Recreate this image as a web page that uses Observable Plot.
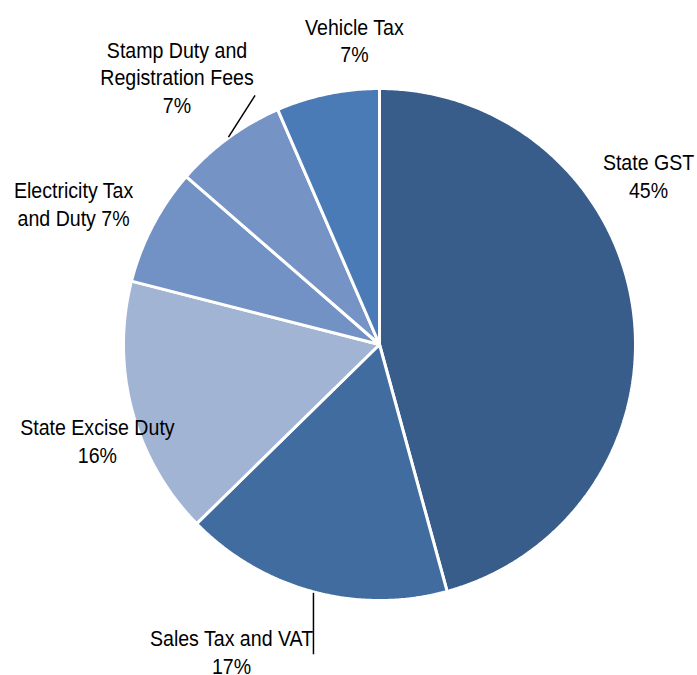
<!DOCTYPE html>
<html><head><meta charset="utf-8">
<script src="https://cdn.jsdelivr.net/npm/d3@7"></script>
<script src="https://cdn.jsdelivr.net/npm/@observablehq/plot@0.6"></script>
<style>
html,body{margin:0;padding:0;background:#fff;}
#chart svg{display:block;}
</style>
</head><body><div id="chart"></div>
<script>
const categories = ["State GST", "Sales Tax and VAT", "State Excise Duty", "Electricity Tax and Duty", "Stamp Duty and Registration Fees", "Vehicle Tax"];
const values = [45.7, 16.9, 16.3, 7.4, 7.1, 6.5];
const percentLabels = ["45%", "17%", "16%", "7%", "7%", "7%"];
const colors = ["#385d8a", "#416c9f", "#a2b4d4", "#7292c5", "#7594c5", "#4a7bb6"];

// label layout (text lines, anchor in pie-radius units relative to centre)
const labelLayout = [
  {lines: ["State GST", "45%"], x: 1.051, y: 0.655},
  {lines: ["Sales Tax and VAT", "17%"], x: -0.578, y: -1.205},
  {lines: ["State Excise Duty", "16%"], x: -1.102, y: -0.38},
  {lines: ["Electricity Tax", "and Duty 7%"], x: -1.195, y: 0.546},
  {lines: ["Stamp Duty and", "Registration Fees", "7%"], x: -0.791, y: 1.04},
  {lines: ["Vehicle Tax", "7%"], x: -0.098, y: 1.185}
];
// leader lines (pie-radius units)
const leaders = [
  {x1: -0.59, y1: 0.81, x2: -0.486, y2: 0.973},
  {x1: -0.258, y1: -0.97, x2: -0.258, y2: -1.21}
];

const W = 697, H = 675, cx = 379, cy = 344, R = 256;

const pie = d3.pie().sort(null).value(d => d.value);
const arcs = pie(categories.map((c, i) => ({category: c, value: values[i], color: colors[i]})));

const polys = [];
arcs.forEach(a => {
  polys.push({cat: a.data.category, color: a.data.color, x: 0, y: 0});
  const n = Math.max(2, Math.ceil((a.endAngle - a.startAngle) * 120));
  for (let k = 0; k <= n; k++) {
    const t = a.startAngle + (a.endAngle - a.startAngle) * k / n;
    polys.push({cat: a.data.category, color: a.data.color, x: Math.sin(t), y: Math.cos(t)});
  }
  polys.push({cat: a.data.category, color: a.data.color, x: 0, y: 0});
});

const textRows = [];
const lh = 27.5 / R;
labelLayout.forEach(l => {
  const n = l.lines.length;
  l.lines.forEach((s, j) => {
    textRows.push({text: s, x: l.x, y: l.y - (j - (n - 1) / 2) * lh});
  });
});

const chart = Plot.plot({
  width: W, height: H,
  margin: 0,
  x: {domain: [-cx / R, (W - cx) / R], axis: null},
  y: {domain: [-(H - cy) / R, cy / R], axis: null},
  style: {background: "#fff", fontFamily: "'Liberation Sans Narrow','Arial Narrow','Liberation Sans',Arial,sans-serif"},
  marks: [
    Plot.line(polys, {x: "x", y: "y", z: "cat", fill: "color", stroke: "white", strokeWidth: 3, strokeLinejoin: "miter", curve: "linear"}),
    Plot.link(leaders, {x1: "x1", y1: "y1", x2: "x2", y2: "y2", stroke: "black", strokeWidth: 1.5}),
    Plot.text(textRows, {x: "x", y: "y", text: "text", fontSize: 22.5, fill: "#000", textAnchor: "middle", lineAnchor: "middle"})
  ]
});
// condense label glyphs horizontally to mimic a narrow typeface
d3.select(chart).selectAll("g[aria-label=text] text").each(function () {
  const x = this.getAttribute("x"), y = this.getAttribute("y");
  const prev = this.getAttribute("transform") || "";
  if (x !== null && y !== null) {
    this.setAttribute("x", 0);
    this.setAttribute("y", 0);
    this.setAttribute("transform", `translate(${x},${y}) scale(0.87,1)`);
  } else {
    this.setAttribute("transform", `${prev} scale(0.87,1)`);
  }
});
document.getElementById("chart").appendChild(chart);
</script>
</body></html>
